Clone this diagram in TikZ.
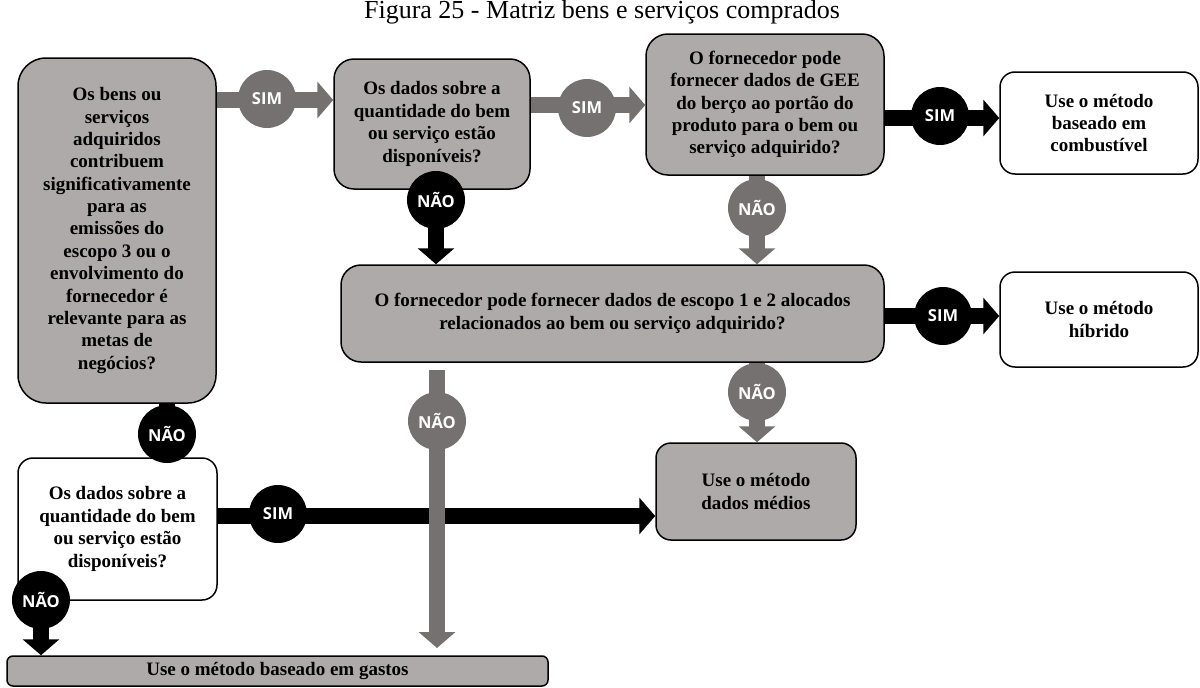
\documentclass[tikz,border=0pt]{standalone}
\usepackage{fontspec}
\setmainfont{Liberation Serif}
\newfontfamily\labfont{Open Sans}
\usetikzlibrary{arrows.meta}
\definecolor{boxgray}{HTML}{AEAAAA}
\definecolor{arrgray}{HTML}{767171}
\tikzset{
  qbox/.style={draw=black, line width=1.5pt, rounded corners=#1, align=center,
    inner sep=0pt, font=\fontsize{19}{22.4}\selectfont\bfseries},
  graybox/.style={qbox=#1, fill=boxgray},
  whitebox/.style={qbox=#1, fill=white},
  flow/.style={line width=16pt, -{Triangle[width=36pt,length=16pt]}},
  yesno/.style={circle, minimum size=58pt, inner sep=0pt, text=white,
    font=\labfont\bfseries\fontsize{16.5}{19}\selectfont},
}
\begin{document}
\begin{tikzpicture}[x=1pt,y=-1pt]
\useasboundingbox (0,0) rectangle (1200,688);

% title
\node[font=\fontsize{26}{30}\selectfont] (title) at (602,12) {Figura 25 - Matriz bens e serviços comprados};

% decision and result boxes
\node[graybox=28pt, minimum width=198pt, minimum height=345pt] (A) at (117,230.5)
  {Os bens ou\\serviços\\adquiridos\\contribuem\\significativamente\\para as\\emissões do\\escopo 3 ou o\\envolvimento do\\fornecedor é\\relevante para as\\metas de\\negócios?};
\node[graybox=20pt, minimum width=196pt, minimum height=130pt] (B) at (432,124)
  {Os dados sobre a\\quantidade do bem\\ou serviço estão\\disponíveis?};
\node[graybox=22pt, minimum width=238pt, minimum height=141pt] (C) at (765,104.5)
  {O fornecedor pode\\fornecer dados de GEE\\do berço ao portão do\\produto para o bem ou\\serviço adquirido?};
\node[whitebox=15pt, minimum width=198pt, minimum height=102pt] (D) at (1099,123)
  {Use o método\\baseado em\\combustível};
\node[graybox=20pt, minimum width=543pt, minimum height=97pt] (E) at (612.5,313.5)
  {O fornecedor pode fornecer dados de escopo 1 e 2 alocados\\relacionados ao bem ou serviço adquirido?};
\node[whitebox=15pt, minimum width=198pt, minimum height=95pt] (F) at (1099,319.5)
  {Use o método\\híbrido};
\node[graybox=15pt, minimum width=200pt, minimum height=97pt] (G) at (756,491.5)
  {Use o método\\dados médios};
\node[whitebox=15pt, minimum width=199pt, minimum height=142pt] (H) at (117.5,529)
  {Os dados sobre a\\quantidade do bem\\ou serviço estão\\disponíveis?};
\node[graybox=6pt, minimum width=541pt, minimum height=30pt] (I) at (277.5,671)
  {Use o método baseado em gastos};

% levels of the connectors
\coordinate (yAB) at (0,100);
\coordinate (yBC) at (0,105);
\coordinate (yCD) at (0,118);
\coordinate (yEF) at (0,316);
\coordinate (yHG) at (0,516);
\coordinate (xBE) at (436,0);
\coordinate (xCE) at (757,0);
\coordinate (xAH) at (167,0);
\coordinate (xHI) at (41,0);
\coordinate (nHI) at (41,600);
\coordinate (gEI) at (437,370);
\coordinate (tEI) at (437,648);

% black connectors
\draw[flow, black] (C.east |- yCD) -- (D.west |- yCD);
\draw[flow, black] (B.south -| xBE) -- (E.north -| xBE);
\draw[flow, black] (E.east |- yEF) -- (F.west |- yEF);
\draw[flow, black] (A.south -| xAH) -- (H.north -| xAH);
\draw[flow, black] (H.east |- yHG) -- (G.west |- yHG);
\draw[flow, black] (nHI) -- (I.north -| xHI);

% gray connectors
\draw[flow, arrgray] (A.east |- yAB) -- (B.west |- yAB);
\draw[flow, arrgray] (B.east |- yBC) -- (C.west |- yBC);
\draw[flow, arrgray] (C.south -| xCE) -- (E.north -| xCE);
\draw[flow, arrgray] (E.south -| xCE) -- (G.north -| xCE);
\draw[flow, arrgray] (gEI) -- (tEI);

% answer labels
\node[yesno, fill=arrgray] (sAB) at (267,99) {SIM};
\node[yesno, fill=arrgray] (sBC) at (587,108) {SIM};
\node[yesno, fill=black] (sCD) at (940,116) {SIM};
\node[yesno, fill=black] (nBE) at (436,200) {NÃO};
\node[yesno, fill=arrgray] (nCE) at (757,208) {NÃO};
\node[yesno, fill=black] (sEF) at (943,316) {SIM};
\node[yesno, fill=arrgray] (nEG) at (757,392) {NÃO};
\node[yesno, fill=arrgray] (nEI) at (437,421) {NÃO};
\node[yesno, fill=black] (nAH) at (167,434) {NÃO};
\node[yesno, fill=black] (sHG) at (278,514) {SIM};
\node[yesno, fill=black] (nHIc) at (nHI) {NÃO};
\end{tikzpicture}
\end{document}
